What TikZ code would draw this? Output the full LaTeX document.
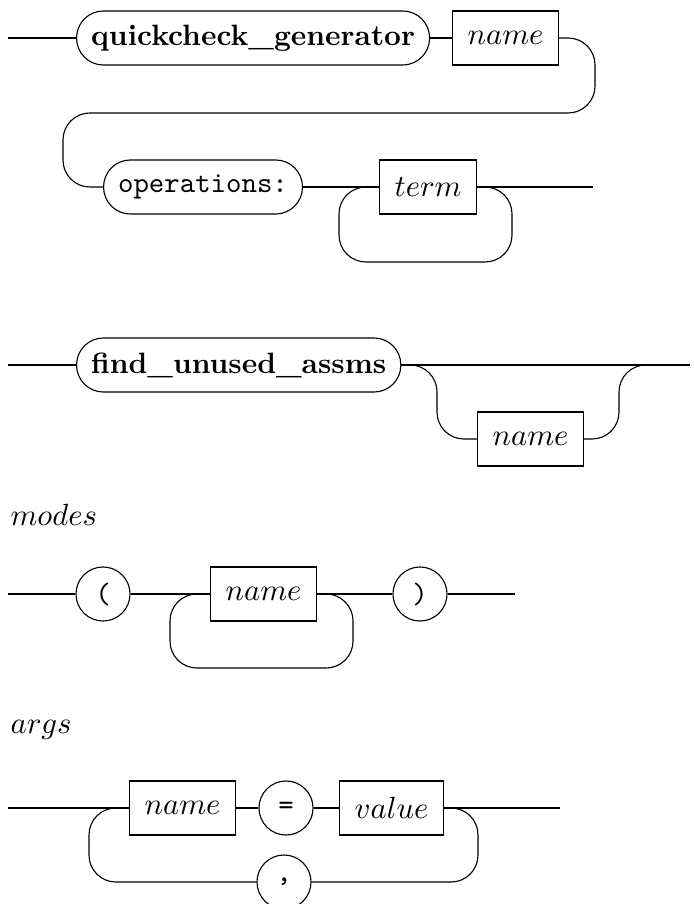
\documentclass[tikz,border=0pt]{standalone}
\usepackage{tikz}
\tikzset{
  keyword/.style={draw,rectangle,rounded corners=9.6pt,minimum height=19.3pt,inner xsep=5.2pt,inner ysep=0pt},
  nonterm/.style={draw,rectangle,minimum height=19.3pt,inner xsep=5.4pt,inner ysep=0pt},
  token/.style={draw,circle,minimum size=19.3pt,inner sep=0pt,font=\ttfamily},
  rulename/.style={anchor=base west,inner sep=0pt},
  rail/.style={rounded corners=9.6pt}
}
\begin{document}
\begin{tikzpicture}[x=3.571pt,y=-3.571pt]
\fontsize{10.5pt}{12.6pt}\selectfont
\useasboundingbox (0,0) rectangle (69.3,90.4);
% quickcheck_generator
\coordinate (S1) at (0.8,3.8);
\coordinate (E1) at (59.3,18.7);
\node[keyword,anchor=west,font=\bfseries] (qg) at (7.6,3.8) {quickcheck\_generator};
\node[nonterm,anchor=west] (qgname) at (45.2,3.8) {$name$};
\node[keyword,anchor=west,font=\ttfamily] (ops) at (10.3,18.7) {operations:};
\node[nonterm,anchor=west] (term) at (37.9,18.7) {$term$};
\draw (S1) -- (qg);
\draw (qg) -- (qgname);
\draw[rail] (qgname.east) -| (59.5,11.3) -| (6.3,18.7) -- (ops.west);
\draw (ops) -- (term);
\draw (term) -- (E1);
\draw[rail] (term.east) -| (51.2,26.2) -| (33.9,18.7) -- (term.west);
% find_unused_assms
\coordinate (S2) at (0.8,36.5);
\coordinate (E2) at (69.0,36.5);
\node[keyword,anchor=west,font=\bfseries] (fua) at (7.6,36.5) {find\_unused\_assms};
\node[nonterm,anchor=west] (fuaname) at (47.7,43.9) {$name$};
\draw (S2) -- (fua);
\draw (fua) -- (E2);
\draw[rail] (fua.east) -| (43.7,43.9) -- (fuaname.west);
\draw[rail] (fuaname.east) -| (61.9,36.5) -- (65.0,36.5);
% modes
\node[rulename] (modes) at (1.0,52.5) {$modes$};
\coordinate (S3) at (0.8,59.4);
\coordinate (E3) at (51.5,59.4);
\node[token] (lpar) at (10.3,59.4) {(};
\node[nonterm,anchor=west] (modename) at (21.0,59.4) {$name$};
\node[token] (rpar) at (42.0,59.4) {)};
\draw (S3) -- (lpar);
\draw (lpar) -- (modename);
\draw (modename) -- (rpar);
\draw (rpar) -- (E3);
\draw[rail] (modename.east) -| (35.3,66.8) -| (17.0,59.4) -- (modename.west);
% args
\node[rulename] (args) at (1.0,73.3) {$args$};
\coordinate (S4) at (0.8,80.8);
\coordinate (E4) at (56.0,80.8);
\node[nonterm,anchor=west] (argname) at (12.9,80.8) {$name$};
\node[token] (eq) at (28.6,80.8) {=};
\node[nonterm,anchor=west] (argval) at (33.9,80.8) {$value$};
\node[token] (comma) at (28.4,88.2) {,};
\draw (S4) -- (argname);
\draw (argname) -- (eq);
\draw (eq) -- (argval);
\draw (argval) -- (E4);
\draw[rail] (argval.east) -| (47.8,88.2) -- (comma.east);
\draw[rail] (comma.west) -| (8.9,80.8) -- (argname.west);
\end{tikzpicture}
\end{document}
